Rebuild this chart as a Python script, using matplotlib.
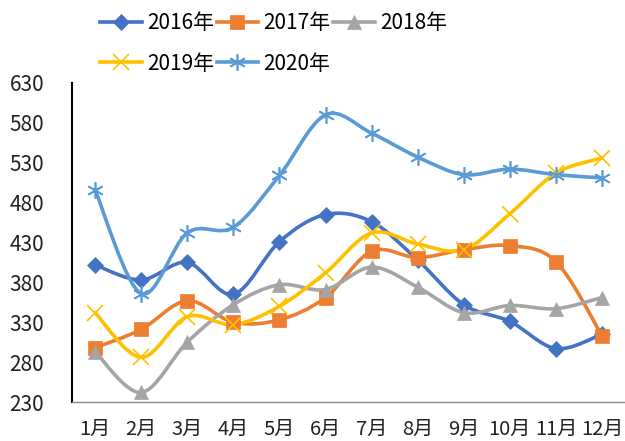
import matplotlib
matplotlib.use("Agg")
import matplotlib.pyplot as plt
from matplotlib.path import Path
from matplotlib.patches import PathPatch
from matplotlib.lines import Line2D
import numpy as np

plt.rcParams['font.family'] = ['Noto Sans CJK SC', 'DejaVu Sans']

months = ['1月', '2月', '3月', '4月', '5月', '6月', '7月', '8月', '9月', '10月', '11月', '12月']
series_names = ['2016年', '2017年', '2018年', '2019年', '2020年']
v2016 = [402, 383, 405, 365, 431, 465, 456, 408, 352, 331, 297, 315]
v2017 = [298, 321, 357, 330, 333, 361, 419, 411, 421, 426, 406, 313]
v2018 = [293, 242, 305, 352, 377, 371, 399, 374, 342, 351, 347, 361]
v2019 = [342, 286, 337, 327, 350, 392, 442, 428, 421, 466, 517, 536]
v2020 = [496, 366, 442, 449, 514, 590, 567, 537, 515, 522, 515, 511]
yticks = [230, 280, 330, 380, 430, 480, 530, 580, 630]

all_vals = [v2016, v2017, v2018, v2019, v2020]
colors = ['#4472C4', '#ED7D31', '#A5A5A5', '#FFC000', '#5B9BD5']
markers = ['D', 's', '^', 'x', (6, 2, 0)]
msizes = [8.5, 10, 10, 11, 12]

fig = plt.figure(figsize=(6.25, 4.41), dpi=100)
ax = fig.add_axes([0.1152, 0.0884, 0.885, 0.7236])

def smooth_path(xs, ys):
    pts = np.column_stack([xs, ys]).astype(float)
    n = len(pts)
    verts = [pts[0]]
    codes = [Path.MOVETO]
    for i in range(n - 1):
        p0 = pts[i - 1] if i > 0 else pts[i]
        p1 = pts[i]
        p2 = pts[i + 1]
        p3 = pts[i + 2] if i + 2 < n else pts[i + 1]
        c1 = p1 + (p2 - p0) / 6.0
        c2 = p2 - (p3 - p1) / 6.0
        verts += [c1, c2, p2]
        codes += [Path.CURVE4] * 3
    return Path(verts, codes)

x = np.arange(len(months))
handles = []
for vals, c, m, ms, name in zip(all_vals, colors, markers, msizes, series_names):
    patch = PathPatch(smooth_path(x, vals), facecolor='none', edgecolor=c,
                      lw=2.6, transform=ax.transData, capstyle='round', joinstyle='round', zorder=2)
    ax.add_patch(patch)
    mew = 1.2 if m == 'x' or isinstance(m, tuple) else 0.5
    ax.plot(x, vals, linestyle='none', marker=m, color=c, markersize=ms,
            markeredgecolor=c, markeredgewidth=mew, zorder=3)
    handles.append(Line2D([0], [0], color=c, lw=2.6, marker=m, markersize=ms,
                          markeredgecolor=c, markeredgewidth=mew))

ax.set_xlim(-0.5, len(months) - 0.5)
ax.set_ylim(230, 630)
ax.set_yticks(yticks)
ax.set_yticklabels([str(t) for t in yticks], fontsize=15, color='#222222')
ax.set_xticks(x)
ax.set_xticklabels(months, fontsize=14.5, color='#222222')
ax.tick_params(axis='both', length=0)
ax.tick_params(axis='y', pad=20)
ax.tick_params(axis='x', pad=12)

for s in ['top', 'right']:
    ax.spines[s].set_visible(False)
ax.spines['left'].set_color('black')
ax.spines['left'].set_linewidth(1.5)
ax.spines['bottom'].set_color('#888888')
ax.spines['bottom'].set_linewidth(1.0)

# row-wise legend order (matplotlib fills column-wise)
order = [0, 3, 1, 4, 2]
fig.legend([handles[i] for i in order], [series_names[i] for i in order], ncol=3, loc='upper left',
           bbox_to_anchor=(100 / 625, 1 - 12 / 441), frameon=False,
           fontsize=15, handlelength=2.0, handletextpad=0.25,
           columnspacing=0.12, labelspacing=0.9, borderpad=0, borderaxespad=0)

fig.savefig('out.png', dpi=100)
